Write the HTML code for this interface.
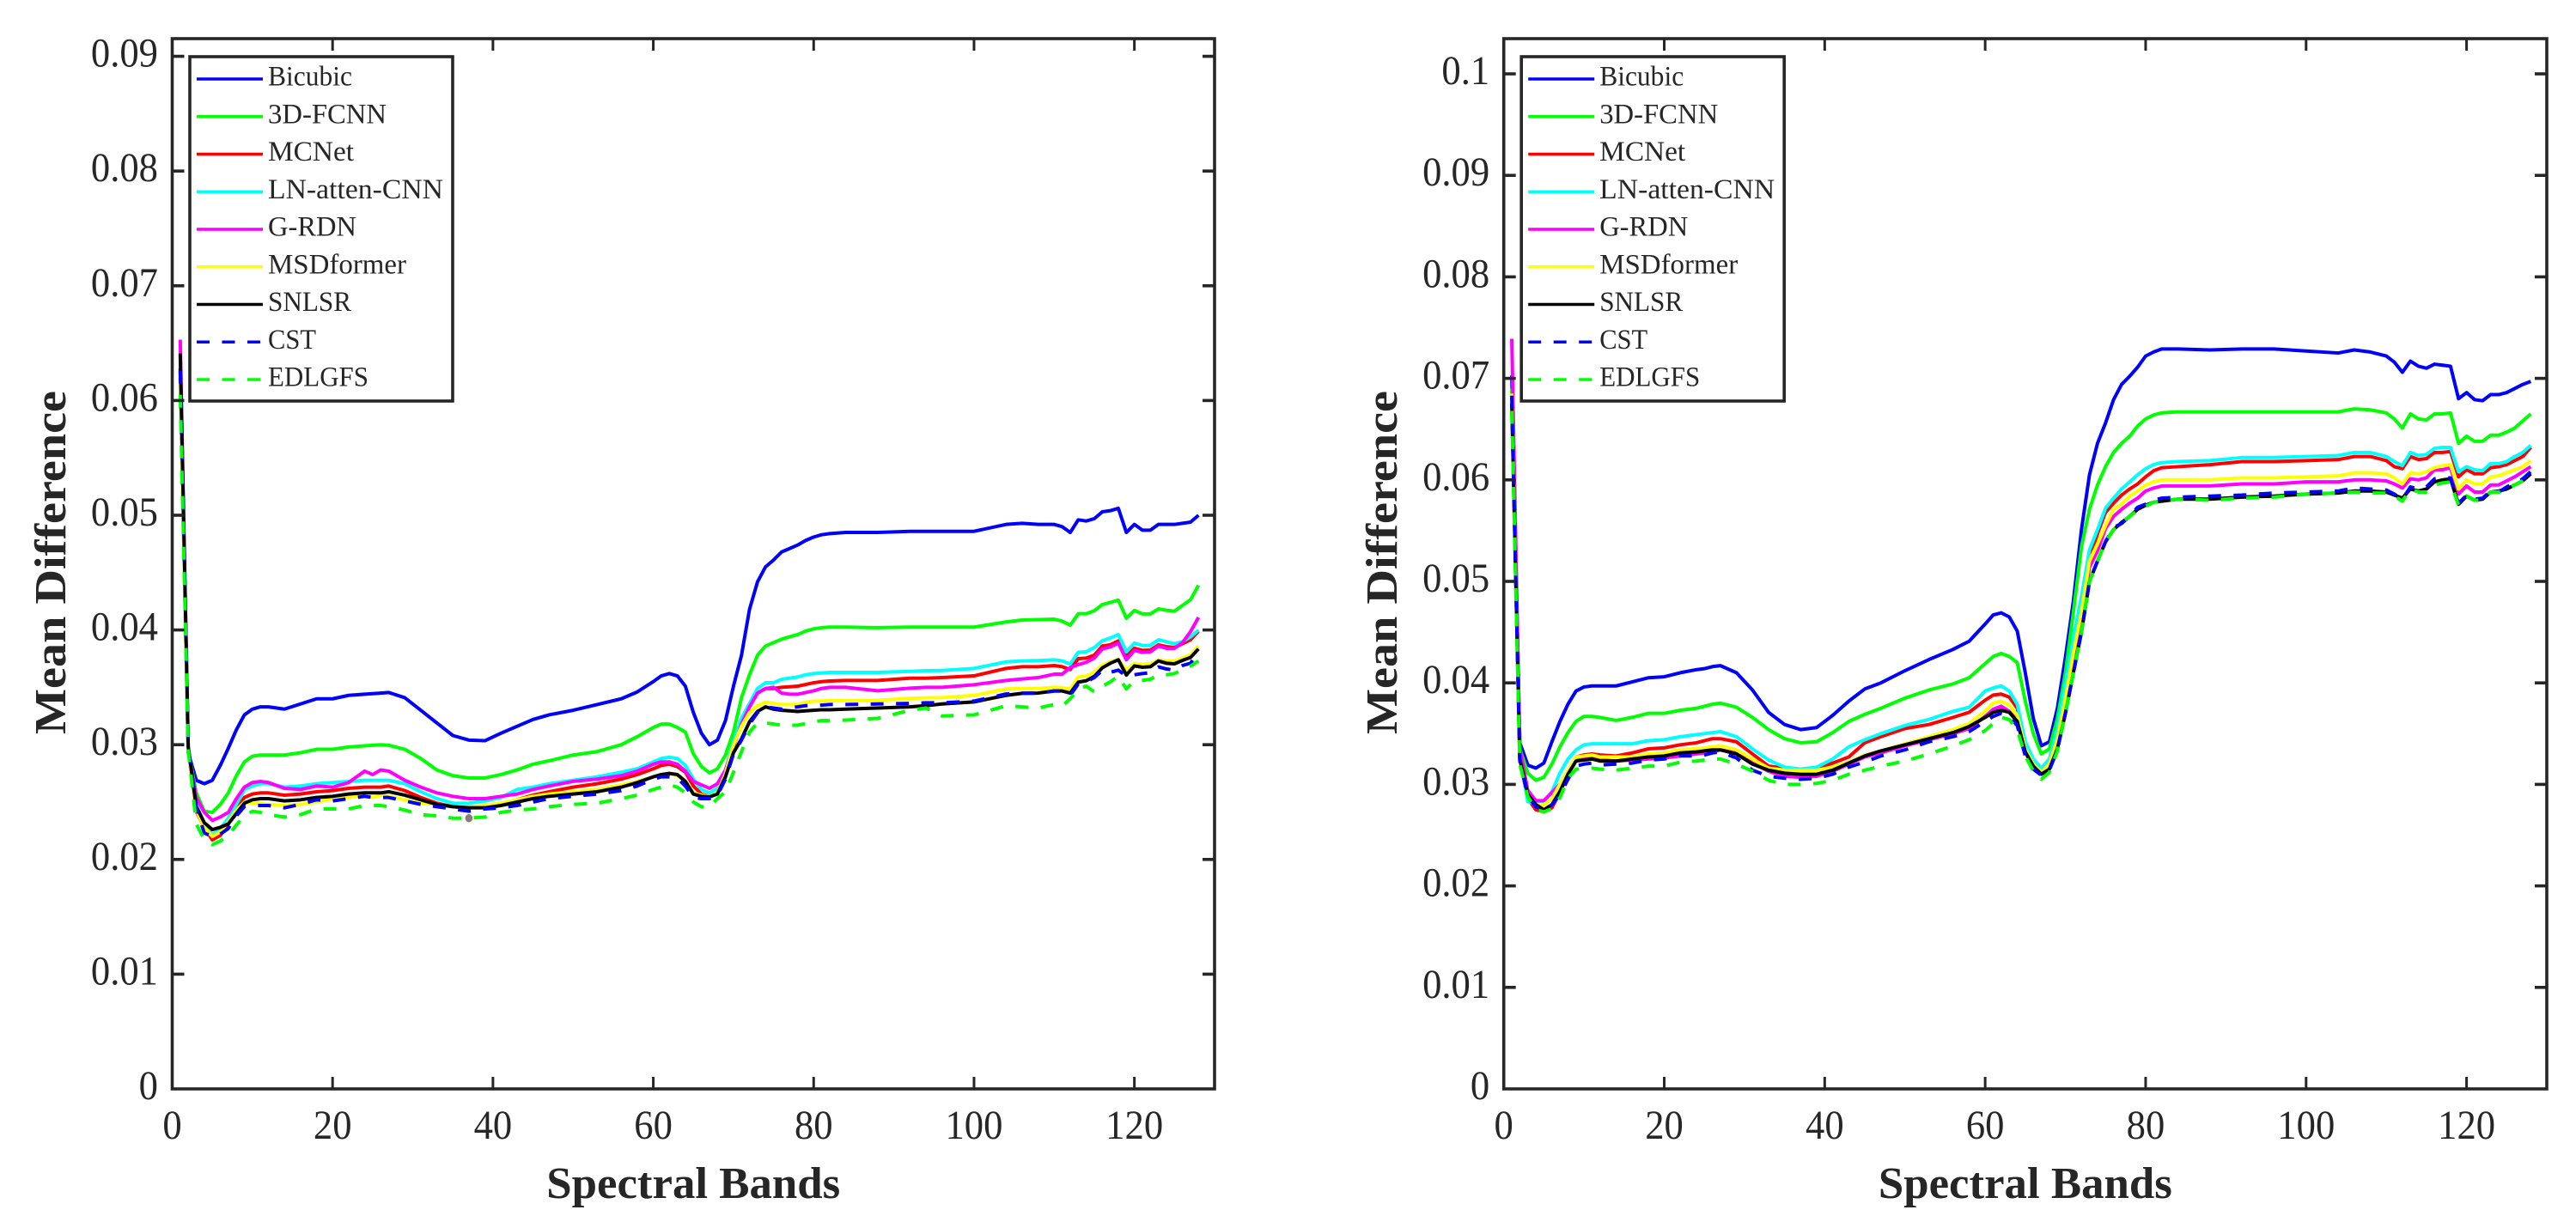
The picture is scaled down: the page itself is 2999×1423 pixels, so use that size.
<!DOCTYPE html>
<html lang="en">
<head>
<meta charset="utf-8">
<title>Mean Difference vs Spectral Bands</title>
<style>
html,body{margin:0;padding:0;background:#fff;width:2999px;height:1423px;overflow:hidden}
svg{display:block}
text{font-family:"Liberation Serif",serif;fill:#262626}
</style>
</head>
<body>
<svg id="figure" xmlns="http://www.w3.org/2000/svg" width="2999" height="1423" viewBox="0 0 2999 1423"></svg>
<script>
/* Values are Mean Difference x 10^-3, one per entry of `bands`. */
const bands = [1,2,3,4,5,6,7,8,9,10,11,12,
14,16,18,20,22,24,25,26,27,
29,31,33,35,37,39,41,43,45,47,
50,53,56,58,60,61,62,63,64,65,
66,67,68,69,70,71,72,73,74,75,76,
77,78,79,80,81,82,84,88,92,94,96,100,104,106,108,110,
111,112,113,114,115,116,117,118,119,120,121,122,123,124,125,126,127,128];

const leftBicubic = [62.8,29.3,26.9,26.6,26.9,28.2,29.7,31.3,32.6,33.1,33.3,33.3,
33.1,33.55,34.0,34.0,34.3,34.4,34.45,34.5,34.55,
34.1,33.0,31.9,30.8,30.4,30.35,31.0,31.6,32.2,32.6,
33.0,33.5,34.0,34.6,35.5,36.0,36.2,36.0,35.1,32.8,
31.0,30.0,30.4,32.1,35.1,37.8,41.8,44.2,45.5,46.1,46.8,
47.1,47.4,47.8,48.1,48.3,48.4,48.5,48.5,48.6,48.6,48.6,48.6,49.2,49.3,49.2,49.2,
49.0,48.5,49.6,49.5,49.7,50.3,50.4,50.6,48.5,49.2,48.7,48.7,49.2,49.2,49.2,49.3,49.4,50.0];
const left3DFCNN = [62.6,29.5,25.8,24.2,24.1,24.8,25.8,27.3,28.5,29.0,29.1,29.1,
29.1,29.3,29.6,29.6,29.8,29.9,29.95,30.0,29.95,
29.6,28.8,27.8,27.3,27.1,27.1,27.4,27.8,28.3,28.6,
29.1,29.4,30.0,30.7,31.5,31.8,31.8,31.5,31.1,29.2,
28.1,27.55,27.9,29.1,31.1,34.1,36.1,37.8,38.6,38.9,39.2,
39.4,39.6,39.9,40.1,40.2,40.25,40.25,40.2,40.25,40.25,40.25,40.25,40.7,40.87,40.9,40.94,
40.77,40.42,41.42,41.42,41.67,42.22,42.4,42.6,41.02,41.7,41.4,41.4,41.84,41.72,41.64,42.14,42.64,43.89];
const leftMCNet = [62.0,29.5,24.2,22.8,21.7,22.1,23.1,24.4,25.4,25.7,25.8,25.8,
25.6,25.7,25.9,26.0,26.2,26.3,26.3,26.3,26.4,
26.0,25.4,24.9,24.6,24.5,24.6,24.8,25.2,25.6,25.9,
26.3,26.6,27.0,27.4,27.9,28.2,28.3,28.1,27.6,26.4,
25.7,25.5,25.8,27.5,30.1,32.1,33.5,34.5,34.9,34.9,35.0,
35.05,35.1,35.25,35.4,35.5,35.55,35.6,35.6,35.8,35.8,35.85,36.0,36.65,36.8,36.8,36.9,
36.8,36.55,37.5,37.55,37.8,38.6,38.7,39.05,37.7,38.4,38.22,38.25,38.7,38.55,38.47,38.8,39.15,39.9];
const leftLNAtten = [61.5,29.5,24.8,23.1,22.1,22.7,23.6,24.8,26.1,26.4,26.6,26.6,
26.3,26.4,26.6,26.7,26.8,26.9,26.9,26.9,26.9,
26.6,25.9,25.3,24.9,24.9,25.1,25.4,26.1,26.3,26.6,
26.9,27.2,27.6,27.9,28.5,28.8,28.9,28.8,28.2,27.0,
26.1,25.8,26.2,27.8,30.3,32.3,33.6,34.9,35.4,35.4,35.7,
35.8,35.9,36.1,36.2,36.25,36.3,36.3,36.3,36.4,36.45,36.47,36.65,37.22,37.3,37.33,37.4,
37.3,37.03,38.05,38.1,38.47,39.05,39.3,39.6,38.1,38.85,38.65,38.65,39.15,38.97,38.8,38.97,39.4,40.0];
const leftGRDN = [65.3,29.5,25.4,24.1,23.4,23.7,24.1,25.3,26.3,26.7,26.8,26.7,
26.2,26.1,26.4,26.3,26.7,27.7,27.4,27.8,27.7,
26.9,26.3,25.8,25.5,25.3,25.3,25.5,25.7,26.1,26.4,
26.8,27.0,27.3,27.7,28.3,28.5,28.5,28.3,27.7,26.8,
26.5,26.2,26.6,27.8,29.8,31.8,33.3,34.5,34.9,35.0,34.5,
34.4,34.4,34.55,34.7,34.9,35.0,35.0,34.7,34.93,35.0,35.0,35.23,35.6,35.73,35.85,36.15,
36.15,36.73,36.98,37.18,37.55,38.35,38.52,38.85,37.4,38.22,38.05,38.1,38.6,38.4,38.4,38.9,39.85,41.1];
const leftMSDformer = [62.0,29.5,24.3,22.8,22.0,22.4,23.3,24.3,25.0,24.9,24.9,24.8,
24.7,24.8,25.0,25.3,25.4,25.6,25.4,25.6,25.5,
25.2,24.9,24.8,24.6,24.6,24.7,24.9,25.2,25.5,25.7,
25.9,26.1,26.5,26.8,27.2,27.4,27.5,27.3,26.8,25.8,
25.6,25.5,25.8,27.5,30.0,31.6,32.8,33.4,33.7,33.6,33.5,
33.5,33.5,33.7,33.8,33.8,33.85,33.85,33.86,34.05,34.08,34.1,34.3,34.85,34.9,34.9,35.0,
34.97,34.85,35.9,35.97,36.35,36.93,37.23,37.43,36.48,37.1,37.0,37.05,37.4,37.3,37.3,37.55,37.85,38.6];
const leftSNLSR = [64.1,29.8,24.6,23.2,22.6,22.8,23.1,24.0,24.9,25.2,25.3,25.3,
25.1,25.2,25.4,25.5,25.7,25.8,25.8,25.8,25.9,
25.6,25.2,24.8,24.6,24.5,24.5,24.7,25.0,25.3,25.5,
25.7,25.9,26.3,26.7,27.2,27.4,27.5,27.4,26.8,25.7,
25.5,25.45,25.7,27.2,29.3,30.5,32.0,32.9,33.3,33.1,33.0,
32.95,32.9,32.95,33.0,33.05,33.05,33.1,33.2,33.3,33.4,33.55,33.73,34.3,34.48,34.5,34.68,
34.68,34.5,35.45,35.58,35.95,36.7,37.1,37.4,36.07,36.87,36.75,36.8,37.3,37.1,37.05,37.35,37.6,38.35];
const leftCST = [62.6,29.8,24.5,22.3,22.0,22.2,22.7,23.8,24.6,24.7,24.7,24.7,
24.5,24.8,25.2,25.1,25.3,25.5,25.4,25.4,25.4,
25.1,24.8,24.6,24.4,24.2,24.4,24.5,24.7,25.0,25.3,
25.5,25.7,26.0,26.4,27.0,27.2,27.2,27.1,26.4,25.4,
25.3,25.3,25.6,27.0,29.2,30.4,31.8,32.8,33.3,33.2,33.1,
33.2,33.3,33.4,33.4,33.45,33.5,33.5,33.55,33.6,33.65,33.65,33.8,34.42,34.5,34.5,34.68,
34.68,34.3,35.3,35.48,35.85,36.48,36.3,36.5,35.97,36.1,36.2,36.28,36.78,36.6,36.5,36.9,37.1,38.1];
const leftEDLGFS = [60.5,29.5,23.1,21.7,21.3,21.6,22.1,23.0,23.8,24.2,24.1,23.9,
23.7,23.9,24.4,24.4,24.4,24.7,24.7,24.7,24.6,
24.3,23.9,23.8,23.6,23.6,23.7,24.1,24.3,24.4,24.6,
24.8,24.9,25.3,25.6,26.1,26.3,26.5,26.3,25.8,25.0,
24.6,24.6,25.3,25.9,27.6,29.4,31.1,31.9,31.9,31.8,31.7,
31.7,31.7,31.85,32.0,32.1,32.1,32.15,32.3,33.0,33.2,32.5,32.6,33.4,33.3,33.2,33.5,
33.36,34.0,34.85,35.1,34.6,35.1,35.48,35.98,34.86,35.55,35.6,35.7,36.1,36.1,36.2,36.55,36.85,37.3];

const rightBicubic = [70.3,34.1,31.9,31.6,32.1,34.2,36.2,37.9,39.2,39.6,39.7,39.7,
39.7,40.1,40.5,40.6,41.0,41.3,41.4,41.6,41.7,
41.0,39.3,37.1,35.9,35.4,35.6,36.8,38.2,39.4,40.0,
41.2,42.3,43.3,44.1,45.8,46.7,46.9,46.5,45.1,41.0,
36.5,33.8,34.2,37.5,42.5,48.1,55.1,60.5,63.6,65.6,67.9,
69.4,70.2,71.1,72.2,72.6,72.9,72.9,72.8,72.9,72.9,72.9,72.7,72.5,72.8,72.6,72.2,
71.6,70.6,71.7,71.2,71.0,71.4,71.3,71.2,68.0,68.6,67.9,67.8,68.4,68.4,68.6,69.0,69.4,69.7];
const right3DFCNN = [69.0,33.5,31.1,30.4,30.7,32.0,33.7,35.1,36.2,36.7,36.7,36.6,
36.3,36.6,37.0,37.0,37.3,37.5,37.7,37.9,38.0,
37.6,36.6,35.4,34.5,34.1,34.2,35.1,36.2,36.9,37.5,
38.5,39.3,39.9,40.5,41.9,42.6,42.9,42.6,42.0,38.2,
35.0,33.0,33.5,36.5,41.0,47.0,53.4,57.1,59.5,61.3,62.7,
63.6,64.3,65.3,66.0,66.4,66.6,66.7,66.7,66.7,66.7,66.7,66.7,66.7,67.0,66.9,66.6,
66.0,65.1,66.5,66.0,65.9,66.5,66.5,66.6,63.6,64.3,63.8,63.8,64.4,64.4,64.7,65.1,65.8,66.5];
const rightMCNet = [68.0,32.5,28.6,27.5,27.3,27.7,29.2,31.1,32.7,32.9,33.0,32.9,
32.8,33.1,33.5,33.6,33.9,34.1,34.3,34.5,34.5,
34.2,33.0,31.8,31.6,31.5,31.6,32.1,32.7,34.1,34.7,
35.5,35.9,36.6,37.1,38.3,38.8,38.9,38.6,37.5,33.7,
32.2,31.3,32.2,35.0,39.5,44.0,47.8,52.3,54.7,56.8,57.7,
58.5,59.1,59.6,60.3,60.9,61.2,61.3,61.5,61.8,61.8,61.8,61.9,62.0,62.3,62.3,61.9,
61.3,61.1,62.3,62.0,62.1,62.7,62.7,62.8,60.3,61.0,60.6,60.6,61.2,61.3,61.5,61.9,62.3,63.2];
const rightLNAtten = [68.0,32.8,28.3,28.1,28.2,29.3,31.1,32.5,33.4,33.9,34.0,34.0,
34.0,34.0,34.3,34.4,34.7,34.9,35.0,35.1,35.2,
34.7,33.5,32.4,31.7,31.5,31.7,32.5,33.7,34.4,35.0,
35.8,36.4,37.2,37.6,39.2,39.5,39.7,39.2,37.9,34.2,
32.5,31.6,32.5,35.5,40.0,44.5,48.5,53.1,55.1,57.2,58.2,
59.1,59.8,60.5,61.1,61.5,61.7,61.8,61.9,62.2,62.2,62.2,62.3,62.4,62.7,62.7,62.3,
61.8,61.4,62.7,62.4,62.5,63.1,63.2,63.2,60.8,61.3,61.0,60.9,61.6,61.6,61.8,62.3,62.7,63.4];
const rightGRDN = [73.9,33.5,29.4,28.4,28.4,29.2,30.0,31.1,32.4,32.5,32.6,32.4,
32.3,32.4,32.5,32.6,32.8,33.0,33.1,33.2,33.4,
33.1,32.1,31.3,30.8,30.7,30.8,31.3,32.0,32.7,33.1,
33.8,34.4,35.0,35.5,36.7,37.4,37.7,37.2,36.3,33.2,
31.6,31.1,32.0,34.5,38.0,42.5,46.2,51.4,53.0,55.2,56.4,
57.1,57.7,58.2,58.9,59.2,59.4,59.4,59.4,59.6,59.6,59.6,59.8,59.8,60.0,60.0,59.9,
59.6,59.2,60.1,60.0,60.2,61.0,61.0,61.2,58.6,59.4,58.8,58.8,59.5,59.5,59.9,60.3,60.8,61.3];
const rightMSDformer = [68.5,32.5,28.9,28.0,28.0,28.6,30.0,31.4,32.7,32.8,32.9,32.7,
32.7,32.7,33.0,33.1,33.4,33.5,33.6,33.7,33.8,
33.4,32.5,31.6,31.4,31.4,31.4,31.7,32.2,32.9,33.3,
34.0,34.7,35.4,36.0,37.2,38.0,38.2,37.8,36.8,33.5,
32.0,31.2,32.0,34.5,38.5,43.0,47.0,52.0,53.7,55.5,57.1,
57.6,58.4,58.9,59.5,59.8,60.0,60.0,60.0,60.2,60.2,60.2,60.3,60.4,60.7,60.7,60.6,
60.2,59.6,60.7,60.6,60.8,61.2,61.4,61.5,59.1,60.0,59.6,59.6,60.3,60.4,60.7,61.0,61.3,61.9];
const rightSNLSR = [67.5,32.5,29.0,28.0,27.5,28.0,29.3,31.0,32.3,32.4,32.5,32.3,
32.3,32.5,32.7,32.8,33.1,33.2,33.3,33.4,33.4,
33.0,32.0,31.4,31.1,31.0,31.0,31.4,32.1,32.8,33.3,
33.9,34.5,35.1,35.7,36.6,37.1,37.3,37.1,36.2,33.2,
31.8,31.0,31.5,33.5,37.0,41.0,45.0,50.0,52.0,53.9,55.1,
55.8,56.4,57.1,57.5,57.8,57.9,58.1,58.1,58.3,58.35,58.4,58.6,58.7,58.9,58.9,58.8,
58.5,58.2,59.1,58.9,59.1,59.8,60.0,60.1,57.6,58.4,58.0,58.1,58.8,58.9,59.1,59.5,59.9,60.6];
const rightCST = [68.3,32.3,28.8,27.8,27.5,28.0,29.0,30.5,31.8,32.0,32.1,31.9,
32.0,32.1,32.4,32.5,32.8,32.8,32.9,33.1,33.2,
32.6,31.4,30.8,30.6,30.5,30.6,31.0,31.7,32.2,32.8,
33.4,34.2,34.7,35.2,36.2,36.7,37.0,36.7,35.8,32.8,
31.5,30.9,31.4,33.4,37.0,41.0,45.0,50.0,52.0,53.9,55.3,
55.7,56.4,57.3,57.6,58.0,58.2,58.3,58.4,58.5,58.6,58.7,58.8,58.9,59.2,59.1,59.0,
58.6,58.1,59.3,59.1,59.3,60.1,60.2,60.2,57.7,58.5,58.1,58.2,58.9,58.8,59.3,59.7,60.1,60.8];
const rightEDLGFS = [66.8,32.0,28.8,27.5,27.3,27.6,28.7,30.6,31.5,31.5,31.6,31.5,
31.4,31.6,31.8,31.8,32.2,32.3,32.4,32.5,32.5,
32.0,31.3,30.4,30.0,30.0,30.1,30.4,31.0,31.4,31.8,
32.3,33.0,33.8,34.4,35.3,36.0,36.6,36.4,35.4,32.8,
31.3,30.5,31.2,33.3,37.0,41.0,45.0,50.0,52.0,53.9,55.1,
55.8,56.4,57.0,57.4,57.8,57.9,58.1,58.0,58.2,58.25,58.3,58.6,58.7,58.8,58.7,58.7,
58.4,57.9,59.1,58.8,58.8,59.5,59.7,59.8,57.5,58.4,58.0,58.0,58.8,58.8,59.1,59.5,59.9,60.6];

const seriesNames = ['Bicubic','3D-FCNN','MCNet','LN-atten-CNN','G-RDN','MSDformer','SNLSR','CST','EDLGFS'];
const seriesColors = ['#0000ff','#00ff00','#ff0000','#00ffff','#ff00ff','#ffff00','#000000','#0000ff','#00ff00'];
const seriesDashed = [false,false,false,false,false,false,false,true,true];
const legendTextWidths = [98,138,100,204,103,161,97,56,117];

const leftSeries = [leftBicubic,left3DFCNN,leftMCNet,leftLNAtten,leftGRDN,leftMSDformer,leftSNLSR,leftCST,leftEDLGFS];
const rightSeries = [rightBicubic,right3DFCNN,rightMCNet,rightLNAtten,rightGRDN,rightMSDformer,rightSNLSR,rightCST,rightEDLGFS];

const xTickValues = [0,20,40,60,80,100,120];
const leftYTickValues = [0,10,20,30,40,50,60,70,80,90];
const leftYTickLabels = ['0','0.01','0.02','0.03','0.04','0.05','0.06','0.07','0.08','0.09'];
const rightYTickValues = [0,10,20,30,40,50,60,70,80,90,100];
const rightYTickLabels = ['0','0.01','0.02','0.03','0.04','0.05','0.06','0.07','0.08','0.09','0.1'];
const leftStrayBand = [37];
const leftStrayValue = [23.6];

const NS = 'http://www.w3.org/2000/svg';
const figure = document.getElementById('figure');
const INK = '#262626';

function make(tag, attrs, parent) {
  const el = document.createElementNS(NS, tag);
  for (const k in attrs) el.setAttribute(k, attrs[k]);
  parent.appendChild(el);
  return el;
}

function drawPanel(cfg) {
  const g = make('g', {}, figure);
  
  
  const L = cfg.left, R = cfg.right, T = 45, B = 1268;
  const xScale = b => L + (R - L) * b / 130;
  const yScale = v => B - (B - T) * v / cfg.yMax;

  cfg.series.forEach((vals, i) => {
    const d = vals.map((v, k) => (k ? 'L' : 'M') + xScale(bands[k]).toFixed(2) + ' ' + yScale(v).toFixed(2)).join('');
    const attrs = {d: d, fill: 'none', stroke: seriesColors[i], 'stroke-width': 4, 'stroke-linejoin': 'round'};
    if (seriesDashed[i]) attrs['stroke-dasharray'] = '15 14.5';
    const line = make('path', attrs, g);
    
    
  });

  if (cfg.strayBand) {
    cfg.strayBand.forEach((b, i) => {
      const dot = make('ellipse', {cx: xScale(b), cy: yScale(cfg.strayValue[i]), rx: 5, ry: 5.5, fill: '#808080', stroke: '#fdf6dc', 'stroke-width': 1.5}, g);
      
      
    });
  }

  const box = make('rect', {x: L, y: T, width: R - L, height: B - T, fill: 'none', stroke: INK, 'stroke-width': 3.6}, g);
  
  

  xTickValues.forEach(v => {
    const x = xScale(v);
    if (v > 0) {
      const t1 = make('line', {x1: x, x2: x, y1: B, y2: B - 14, stroke: INK, 'stroke-width': 3}, g);
      
      
      const t2 = make('line', {x1: x, x2: x, y1: T, y2: T + 14, stroke: INK, 'stroke-width': 3}, g);
      
      
    }
    const lab = make('text', {'font-size': 48, 'text-anchor': 'middle', transform: 'translate(' + x + ' 1326) scale(0.93 1)'}, g);
    lab.textContent = String(v);
    
    
  });

  cfg.yTicks.forEach((v, i) => {
    const y = yScale(v);
    if (v > 0) {
      const t1 = make('line', {x1: L, x2: L + 14, y1: y, y2: y, stroke: INK, 'stroke-width': 3.6}, g);
      
      
      const t2 = make('line', {x1: R, x2: R - 14, y1: y, y2: y, stroke: INK, 'stroke-width': 3.6}, g);
      
      
    }
    const lab = make('text', {'font-size': 48, 'text-anchor': 'end', transform: 'translate(' + (L - 16.5) + ' ' + (y + 12) + ') scale(0.93 1)'}, g);
    lab.textContent = cfg.yLabels[i];
    
    
  });

  const xTitle = make('text', {x: (L + R) / 2, y: 1395, 'font-size': 52, 'font-weight': 'bold', 'text-anchor': 'middle', textLength: 342, lengthAdjust: 'spacingAndGlyphs'}, g);
  xTitle.textContent = 'Spectral Bands';
  
  

  const yTitle = make('text', {x: 0, y: 0, 'font-size': 52, 'font-weight': 'bold', 'text-anchor': 'middle', textLength: 400, lengthAdjust: 'spacingAndGlyphs', transform: 'translate(' + (L - 124.5) + ' 655) rotate(-90)'}, g);
  yTitle.textContent = 'Mean Difference';
  
  

  const legend = make('g', {}, g);
  
  
  const lx = L + 20.5;
  const frame = make('rect', {x: lx, y: 66, width: 306, height: 401, fill: '#fff', stroke: INK, 'stroke-width': 3.6}, legend);
  
  
  seriesNames.forEach((name, i) => {
    const rowY = 92 + i * 43.75;
    const attrs = {x1: lx + 8, x2: lx + 85, y1: rowY, y2: rowY, stroke: seriesColors[i], 'stroke-width': 3.4};
    if (seriesDashed[i]) attrs['stroke-dasharray'] = '15 14.5';
    const key = make('line', attrs, legend);
    
    
    const label = make('text', {x: lx + 91, y: rowY + 7.5, 'font-size': 33, textLength: legendTextWidths[i], lengthAdjust: 'spacingAndGlyphs'}, legend);
    label.textContent = name;
    
    
  });
}

drawPanel({id: 'left', left: 200.5, right: 1414, yMax: 91.54, series: leftSeries, yTicks: leftYTickValues, yLabels: leftYTickLabels, strayBand: leftStrayBand, strayValue: leftStrayValue});
drawPanel({id: 'right', left: 1750.7, right: 2965, yMax: 103.47, series: rightSeries, yTicks: rightYTickValues, yLabels: rightYTickLabels});
</script>
</body>
</html>
